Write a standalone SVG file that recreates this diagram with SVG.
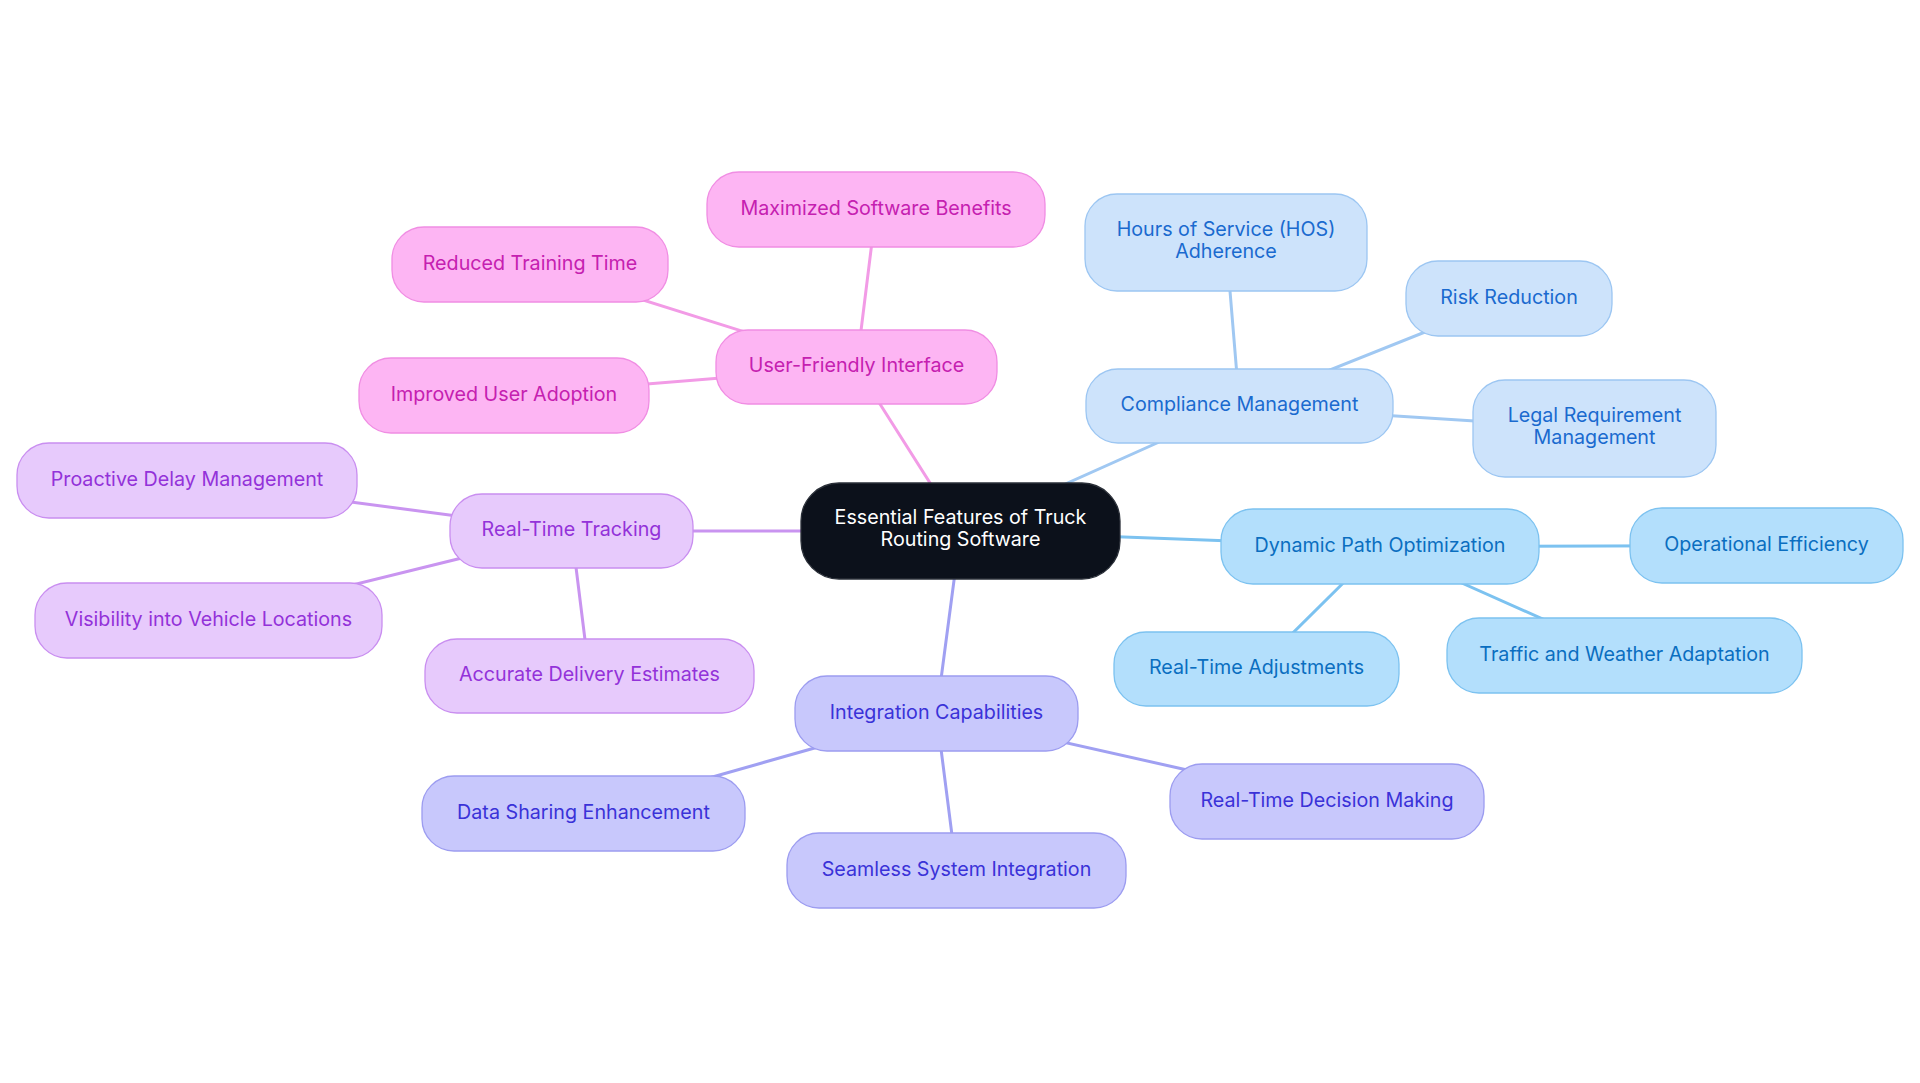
<svg xmlns="http://www.w3.org/2000/svg" width="1920" height="1083" viewBox="0 0 1920 1083">
<style>
text{font-family:Inter,"Noto Sans","Liberation Sans",sans-serif;font-size:19.7px;text-anchor:middle}
.n rect{stroke-width:1.3}
.e line{stroke-width:3;stroke-linecap:round}
.root rect{fill:#0c111b;stroke:#2a2f38}
.root text{fill:#ffffff}
.pk rect{fill:#fdb5f3;stroke:#f08de3}
.pk text{fill:#c520b0}
.pu rect{fill:#e7cafc;stroke:#c98ef0}
.pu text{fill:#9332d9}
.cb rect{fill:#cde3fb;stroke:#9cc6f2}
.cb text{fill:#1a6acf}
.db rect{fill:#b3dffc;stroke:#7cc2f0}
.db text{fill:#0a6ec0}
.ig rect{fill:#c8c8fc;stroke:#9c9cf0}
.ig text{fill:#3a32d8}
</style>
<rect width="1920" height="1083" fill="#ffffff"/>
<g id="connectors" class="e">
<g stroke="#f29be6">
<line x1="960.5" y1="531" x2="856.5" y2="367"/>
<line x1="856.5" y1="367" x2="876" y2="209.5"/>
<line x1="856.5" y1="367" x2="530" y2="264.5"/>
<line x1="856.5" y1="367" x2="504" y2="395.5"/>
</g>
<g stroke="#c994f0">
<line x1="960.5" y1="531" x2="571.5" y2="531"/>
<line x1="571.5" y1="531" x2="187" y2="480.5"/>
<line x1="571.5" y1="531" x2="208.5" y2="620.5"/>
<line x1="571.5" y1="531" x2="589.5" y2="676"/>
</g>
<g stroke="#a0c8f2">
<line x1="960.5" y1="531" x2="1239.5" y2="406"/>
<line x1="1239.5" y1="406" x2="1226" y2="242.5"/>
<line x1="1239.5" y1="406" x2="1509" y2="298.5"/>
<line x1="1239.5" y1="406" x2="1594.5" y2="428.5"/>
</g>
<g stroke="#7cc2f0">
<line x1="960.5" y1="531" x2="1380" y2="546.5"/>
<line x1="1380" y1="546.5" x2="1766.5" y2="545.5"/>
<line x1="1380" y1="546.5" x2="1256.5" y2="669"/>
<line x1="1380" y1="546.5" x2="1624.5" y2="655.5"/>
</g>
<g stroke="#a0a0f2">
<line x1="960.5" y1="531" x2="936.5" y2="713.5"/>
<line x1="936.5" y1="713.5" x2="583.5" y2="813.5"/>
<line x1="936.5" y1="713.5" x2="956.5" y2="870.5"/>
<line x1="936.5" y1="713.5" x2="1327" y2="801.5"/>
</g>
</g>
<g id="root" class="n root"><rect x="801" y="483" width="319" height="96" rx="38"/><text x="960.5" y="524">Essential Features of Truck</text><text x="960.5" y="546">Routing Software</text></g>

<g id="ufi" class="n pk"><rect x="716" y="330" width="281" height="74" rx="32"/><text x="856.5" y="372">User-Friendly Interface</text></g>
<g id="max" class="n pk"><rect x="707" y="172" width="338" height="75" rx="32"/><text x="876" y="214.5">Maximized Software Benefits</text></g>
<g id="rtt" class="n pk"><rect x="392" y="227" width="276" height="75" rx="32"/><text x="530" y="269.5">Reduced Training Time</text></g>
<g id="iua" class="n pk"><rect x="359" y="358" width="290" height="75" rx="32"/><text x="504" y="400.5">Improved User Adoption</text></g>

<g id="track" class="n pu"><rect x="450" y="494" width="243" height="74" rx="32"/><text x="571.5" y="536">Real-Time Tracking</text></g>
<g id="pdm" class="n pu"><rect x="17" y="443" width="340" height="75" rx="32"/><text x="187" y="485.5">Proactive Delay Management</text></g>
<g id="viv" class="n pu"><rect x="35" y="583" width="347" height="75" rx="32"/><text x="208.5" y="625.5">Visibility into Vehicle Locations</text></g>
<g id="ade" class="n pu"><rect x="425" y="639" width="329" height="74" rx="32"/><text x="589.5" y="681">Accurate Delivery Estimates</text></g>

<g id="comp" class="n cb"><rect x="1086" y="369" width="307" height="74" rx="32"/><text x="1239.5" y="411">Compliance Management</text></g>
<g id="hos" class="n cb"><rect x="1085" y="194" width="282" height="97" rx="32"/><text x="1226" y="236">Hours of Service (HOS)</text><text x="1226" y="258">Adherence</text></g>
<g id="risk" class="n cb"><rect x="1406" y="261" width="206" height="75" rx="32"/><text x="1509" y="303.5">Risk Reduction</text></g>
<g id="legal" class="n cb"><rect x="1473" y="380" width="243" height="97" rx="32"/><text x="1594.5" y="422">Legal Requirement</text><text x="1594.5" y="444">Management</text></g>

<g id="dyn" class="n db"><rect x="1221" y="509" width="318" height="75" rx="32"/><text x="1380" y="551.5">Dynamic Path Optimization</text></g>
<g id="opeff" class="n db"><rect x="1630" y="508" width="273" height="75" rx="32"/><text x="1766.5" y="550.5">Operational Efficiency</text></g>
<g id="rta" class="n db"><rect x="1114" y="632" width="285" height="74" rx="32"/><text x="1256.5" y="674">Real-Time Adjustments</text></g>
<g id="twa" class="n db"><rect x="1447" y="618" width="355" height="75" rx="32"/><text x="1624.5" y="660.5">Traffic and Weather Adaptation</text></g>

<g id="integ" class="n ig"><rect x="795" y="676" width="283" height="75" rx="32"/><text x="936.5" y="718.5">Integration Capabilities</text></g>
<g id="dse" class="n ig"><rect x="422" y="776" width="323" height="75" rx="32"/><text x="583.5" y="818.5">Data Sharing Enhancement</text></g>
<g id="ssi" class="n ig"><rect x="787" y="833" width="339" height="75" rx="32"/><text x="956.5" y="875.5">Seamless System Integration</text></g>
<g id="rtdm" class="n ig"><rect x="1170" y="764" width="314" height="75" rx="32"/><text x="1327" y="806.5">Real-Time Decision Making</text></g>
</svg>
